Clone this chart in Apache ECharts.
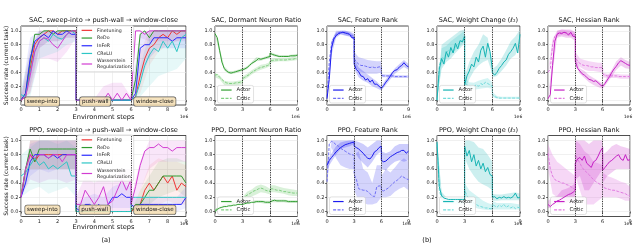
<!DOCTYPE html>
<html><head><meta charset="utf-8">
<script src="https://cdn.jsdelivr.net/npm/echarts@6/dist/echarts.min.js"></script>
<style>html,body{margin:0;padding:0;background:#fff}#c{width:640px;height:245px}</style>
</head><body><div id="c"></div>
<script>
// ---------- x positions (three tasks, each 3e6 steps) ----------
const xsLine = [0,0.25,0.5,0.75,1,1.25,1.5,1.75,2,2.25,2.5,2.75,3,
                3,3.25,3.5,3.75,4,4.25,4.5,4.75,5,5.25,5.5,5.75,6,
                6,6.25,6.5,6.75,7,7.25,7.5,7.75,8,8.25,8.5,8.75,9];
const xsBand = [0,0.5,1,1.5,2,2.5,3, 3,3.5,4,4.5,5,5.5,6, 6,6.5,7,7.5,8,8.5,9];
const yTicks = [0,0.2,0.4,0.6,0.8,1.0];
const methods = ['Finetuning','ReDo','InFeR','CReLU','Wasserstein Regularization'];
const tasks = ['sweep-into','push-wall','window-close'];

// ---------- (a) SAC success rate ----------
const sacFinetuning = [0,0.05,0.45,0.8,0.9,0.95,1,1,0.95,1,1,1,1,
                       0,0,0,0,0,0,0,0,0,0,0,0,0,
                       0,0.05,0.35,0.6,0.75,0.8,0.9,0.95,0.9,1,0.95,1,1];
const sacReDo = [0,0.1,0.55,0.95,0.95,1,1,0.95,1,1,1,1,1,
                 0,0,0,0,0,0,0,0,0,0,0,0,0,
                 0,0.3,0.95,1,0.9,1,1,1,1,1,1,1,1];
const sacInFeR = [0,0.1,0.6,0.85,0.9,0.95,0.9,1,0.95,0.95,1,0.95,0.95,
                  0,0,0,0,0,0,0,0,0,0,0,0,0,
                  0,0.1,0.75,0.8,0.8,0.9,0.9,0.9,0.9,0.85,0.9,0.9,0.9];
const sacCReLU = [0.08,0.05,0.4,0.7,0.85,0.9,0.85,0.95,0.9,0.88,0.95,1,0.95,
                  0,0,0,0,0,0,0,0,0,0,0,0,0,
                  0,0.05,0.25,0.5,0.65,0.75,0.7,0.85,0.75,0.85,0.7,0.9,0.95];
const sacWasser = [0,0.05,0.35,0.7,0.85,0.9,0.88,0.8,0.75,0.85,0.95,1,1,
                   0,0,0,0,0,0,0,0.1,0,0.1,0,0.1,0,
                   0,1,1,0.95,1,1,1,1,1,1,1,1,1];
const sacFineLo   = [0,0.1,0.75,0.85,0.85,0.9,0.9, 0,0,0,0,0,0,0, 0,0.1,0.5,0.7,0.8,0.85,0.9];
const sacFineHi   = [0.05,0.75,1,1,1,1,1, 0,0,0,0,0,0,0, 0.05,0.7,1,1,1,1,1];
const sacInFeRLo  = [0,0.2,0.75,0.85,0.85,0.9,0.9, 0,0,0,0,0,0,0, 0,0.3,0.6,0.75,0.75,0.75,0.75];
const sacInFeRHi  = [0.05,0.9,1,1,1,1,1, 0,0,0,0,0,0,0, 0.05,0.95,1,1,1,1,1];
const sacCReLULo  = [0,0.05,0.6,0.65,0.7,0.8,0.85, 0,0,0,0,0,0,0, 0,0.05,0.2,0.35,0.4,0.45,0.6];
const sacCReLUHi  = [0.15,0.7,1,1,1,1,1, 0,0,0,0,0,0,0, 0.05,0.5,0.95,1,1,1,1];
const sacWasserLo = [0,0.1,0.6,0.6,0.55,0.7,0.9, 0,0,0,0,0,0,0, 0,0.9,0.85,0.85,0.85,0.85,0.85];
const sacWasserHi = [0.05,0.6,1,1,1,1,1, 0,0,0.02,0.2,0.25,0.25,0.05, 0.05,1,1,1,1,1,1];

// ---------- (a) PPO success rate ----------
const ppoFinetuning = [0.2,0.6,0.8,0.7,0.8,0.8,0.8,0.8,0.8,0.8,0.8,0.8,0.8,
                       0,0,0,0,0,0,0,0,0,0,0,0,0,
                       0,0.05,0.1,0.3,0.4,0.3,0.4,0.5,0.4,0.5,0.3,0.4,0.35];
const ppoReDo = [0.2,0.6,0.88,0.7,0.88,0.88,0.88,0.88,0.88,0.88,0.88,0.88,0.88,
                 0,0,0,0,0,0,0,0,0,0,0,0,0,
                 0,0.1,0.1,0.2,0.3,0.3,0.4,0.5,0.5,0.5,0.5,0.5,0.4];
const ppoInFeR = [0.2,0.4,0.7,0.8,0.8,0.8,0.75,0.8,0.75,0.8,0.8,0.8,0.8,
                  0.05,0,0.1,0.1,0.05,0.1,0,0.1,0.2,0.2,0.25,0.2,0.2,
                  0.1,0.05,0.1,0.1,0.1,0.1,0.1,0.1,0.1,0.1,0.1,0.1,0.2];
const ppoCReLU = [0.5,0.55,0.65,0.75,0.65,0.7,0.6,0.65,0.6,0.65,0.7,0.5,0.5,
                  0,0,0,0,0,0,0,0,0,0,0,0,0,
                  0.2,0.2,0.2,0.2,0.2,0.2,0.2,0.2,0.2,0.2,0.2,0.2,0.2];
const ppoWasser = [0.2,0.6,0.8,0.75,0.8,0.8,0.75,0.8,0.8,0.7,0.8,0.8,0.8,
                   0.1,0.1,0.3,0.2,0.1,0.2,0.35,0.1,0.15,0.3,0.45,0.3,0.45,
                   0.1,0.35,0.65,0.85,0.9,0.9,0.95,0.9,0.9,0.85,0.9,0.9,0.9];
const ppoFineLo   = [0.2,0.6,0.6,0.6,0.6,0.6,0.6, 0,0,0,0,0,0,0, 0,0,0.1,0.1,0.15,0.1,0.1];
const ppoFineHi   = [0.2,1,1,1,1,1,1, 0,0,0,0,0,0,0, 0,0.3,0.65,0.75,0.7,0.7,0.65];
const ppoReDoLo   = [0.2,0.6,0.6,0.6,0.6,0.6,0.6, 0,0,0,0,0,0,0, 0,0,0.1,0.2,0.25,0.3,0.2];
const ppoReDoHi   = [0.2,1,1,1,1,1,1, 0,0,0,0,0,0,0, 0,0.3,0.5,0.7,0.75,0.75,0.7];
const ppoInFeRLo  = [0.2,0.5,0.6,0.55,0.6,0.6,0.6, 0,0,0,0,0.05,0.05,0.05, 0.05,0,0,0,0,0,0.05];
const ppoInFeRHi  = [0.2,0.95,1,1,1,1,1, 0.1,0.2,0.25,0.2,0.35,0.4,0.35, 0.2,0.2,0.2,0.2,0.2,0.2,0.35];
const ppoCReLULo  = [0.2,0.3,0.35,0.25,0.3,0.35,0.2, 0,0,0,0,0,0,0, 0.2,0.2,0.2,0.2,0.2,0.2,0.2];
const ppoCReLUHi  = [0.8,0.9,1,1,0.95,1,0.9, 0,0,0,0,0,0,0, 0.2,0.2,0.2,0.2,0.2,0.2,0.2];
const ppoWasserLo = [0.2,0.45,0.4,0.45,0.45,0.4,0.45, 0,0,0,0,0,0,0, 0,0.3,0.6,0.7,0.7,0.7,0.7];
const ppoWasserHi = [0.2,1,1,1,1,1,1, 0.2,0.5,0.4,0.5,0.4,0.6,0.6, 0.2,0.7,1,1,1,1,1];

// ---------- (b) SAC ----------
const sacDormActor = [0.96,0.9,0.72,0.55,0.46,0.42,0.40,0.39,0.40,0.41,0.42,0.43,0.44,
                      0.44,0.45,0.47,0.50,0.53,0.55,0.57,0.60,0.59,0.60,0.61,0.62,0.63,
                      0.68,0.66,0.65,0.64,0.63,0.63,0.63,0.63,0.63,0.64,0.64,0.64,0.65];
const sacDormCritic = [0.36,0.37,0.33,0.30,0.27,0.25,0.24,0.24,0.24,0.25,0.25,0.26,0.26,
                       0.31,0.33,0.35,0.37,0.40,0.42,0.44,0.46,0.47,0.48,0.49,0.50,0.52,
                       0.57,0.57,0.58,0.58,0.58,0.58,0.58,0.58,0.59,0.59,0.59,0.60,0.60];
const sacDormActorLo  = [0.94,0.68,0.43,0.38,0.38,0.40,0.42, 0.42,0.45,0.51,0.56,0.57,0.59,0.61, 0.66,0.63,0.62,0.62,0.62,0.62,0.63];
const sacDormActorHi  = [0.98,0.76,0.49,0.42,0.42,0.44,0.46, 0.46,0.49,0.55,0.62,0.61,0.63,0.65, 0.70,0.67,0.65,0.65,0.65,0.66,0.67];
const sacDormCriticLo = [0.33,0.30,0.22,0.21,0.21,0.22,0.23, 0.28,0.32,0.37,0.41,0.44,0.46,0.49, 0.54,0.55,0.56,0.56,0.56,0.57,0.58];
const sacDormCriticHi = [0.39,0.36,0.28,0.27,0.27,0.28,0.29, 0.34,0.38,0.43,0.47,0.51,0.52,0.55, 0.60,0.61,0.61,0.61,0.61,0.62,0.62];

const sacFrActor = [0.02,0.30,0.75,0.88,0.93,0.96,0.97,0.98,0.97,0.96,0.95,0.90,0.90,
                    0.52,0.44,0.41,0.35,0.34,0.29,0.31,0.26,0.29,0.23,0.23,0.20,0.17,
                    0.17,0.21,0.26,0.30,0.35,0.40,0.43,0.44,0.48,0.50,0.54,0.50,0.48];
const sacFrCritic = [0.05,0.55,0.82,0.90,0.95,0.97,0.98,0.98,0.97,0.97,0.95,0.93,0.92,
                     0.60,0.55,0.52,0.50,0.50,0.49,0.48,0.47,0.48,0.47,0.47,0.48,0.48,
                     0.36,0.35,0.35,0.35,0.35,0.35,0.34,0.34,0.34,0.34,0.34,0.34,0.34];
const sacFrActorLo  = [0.02,0.65,0.9,0.95,0.93,0.92,0.86, 0.45,0.33,0.28,0.25,0.2,0.17,0.14, 0.14,0.22,0.3,0.38,0.43,0.48,0.44];
const sacFrActorHi  = [0.02,0.85,0.98,1.0,1.0,0.98,0.94, 0.6,0.47,0.42,0.37,0.32,0.27,0.2, 0.2,0.3,0.38,0.46,0.52,0.58,0.52];
const sacFrCriticLo = [0.05,0.75,0.92,0.95,0.94,0.92,0.88, 0.5,0.42,0.4,0.38,0.38,0.38,0.4, 0.33,0.33,0.33,0.32,0.32,0.32,0.32];
const sacFrCriticHi = [0.05,0.85,1.0,1.0,1.0,0.99,0.96, 0.7,0.62,0.6,0.58,0.57,0.56,0.56, 0.38,0.37,0.37,0.36,0.36,0.36,0.36];

const sacWcActor = [0.0,0.45,0.6,0.52,0.70,0.62,0.76,0.68,0.82,0.74,0.86,0.84,0.92,
                    0.22,0.35,0.42,0.52,0.48,0.62,0.55,0.72,0.78,0.62,0.82,0.70,0.45,
                    0.40,0.36,0.40,0.46,0.50,0.55,0.58,0.66,0.70,0.75,0.82,0.68,0.95];
const sacWcCritic = [0.0,0.5,0.62,0.6,0.68,0.72,0.74,0.7,0.78,0.8,0.84,0.86,0.94,
                     0.26,0.22,0.2,0.19,0.2,0.22,0.2,0.24,0.22,0.26,0.24,0.22,0.2,
                     0.08,0.05,0.04,0.03,0.03,0.03,0.03,0.03,0.03,0.03,0.03,0.03,0.03];
const sacWcActorLo  = [0,0.45,0.55,0.6,0.68,0.75,0.82, 0.15,0.3,0.42,0.5,0.55,0.58,0.38, 0.33,0.35,0.42,0.5,0.6,0.65,0.8];
const sacWcActorHi  = [0.05,0.8,0.85,0.9,0.95,1.0,1.02, 0.35,0.55,0.7,0.8,0.95,0.9,0.55, 0.45,0.5,0.6,0.72,0.85,0.92,1.02];
const sacWcCriticLo = [0,0.5,0.6,0.65,0.72,0.78,0.85, 0.2,0.15,0.15,0.16,0.17,0.18,0.16, 0.05,0.02,0.02,0.02,0.02,0.02,0.02];
const sacWcCriticHi = [0.05,0.75,0.78,0.85,0.9,0.95,1.0, 0.32,0.26,0.25,0.28,0.3,0.32,0.26, 0.12,0.06,0.05,0.05,0.05,0.05,0.05];

const sacHessActor = [0.02,0.08,0.50,0.85,0.95,0.97,0.96,0.98,0.97,0.94,0.98,0.92,0.92,
                      0.56,0.46,0.42,0.38,0.36,0.33,0.30,0.29,0.27,0.28,0.25,0.22,0.20,
                      0.19,0.24,0.29,0.34,0.40,0.45,0.49,0.54,0.57,0.55,0.53,0.51,0.50];
const sacHessCritic = [0.40,0.45,0.80,0.92,0.96,0.98,0.97,0.98,0.97,0.96,0.96,0.95,0.94,
                       0.62,0.56,0.53,0.51,0.50,0.50,0.49,0.48,0.48,0.47,0.47,0.47,0.47,
                       0.38,0.36,0.35,0.35,0.35,0.35,0.35,0.34,0.34,0.34,0.34,0.34,0.34];
const sacHessActorLo  = [0.02,0.4,0.9,0.92,0.9,0.9,0.85, 0.5,0.38,0.32,0.26,0.22,0.19,0.16, 0.16,0.25,0.34,0.44,0.5,0.46,0.45];
const sacHessActorHi  = [0.02,0.6,1,1.02,1.02,1.02,0.98, 0.62,0.46,0.42,0.36,0.32,0.28,0.24, 0.22,0.33,0.44,0.56,0.62,0.58,0.55];
const sacHessCriticLo = [0.4,0.7,0.92,0.94,0.93,0.92,0.9, 0.55,0.48,0.44,0.42,0.42,0.41,0.4, 0.33,0.32,0.32,0.32,0.31,0.31,0.31];
const sacHessCriticHi = [0.4,0.88,1,1.02,1.01,1,0.98, 0.7,0.6,0.58,0.56,0.55,0.54,0.54, 0.4,0.38,0.38,0.38,0.37,0.37,0.37];

// ---------- (b) PPO ----------
const ppoDormActor = [0.00,0.03,0.05,0.06,0.07,0.07,0.08,0.08,0.09,0.09,0.10,0.10,0.10,
                      0.10,0.11,0.12,0.12,0.13,0.13,0.14,0.14,0.14,0.14,0.13,0.13,0.13,
                      0.15,0.15,0.16,0.15,0.15,0.15,0.15,0.15,0.14,0.14,0.14,0.14,0.14];
const ppoDormCritic = [0.02,0.04,0.05,0.07,0.08,0.09,0.10,0.11,0.12,0.13,0.14,0.15,0.15,
                       0.18,0.21,0.23,0.25,0.27,0.29,0.30,0.32,0.33,0.32,0.30,0.29,0.28,
                       0.32,0.32,0.31,0.30,0.30,0.29,0.28,0.28,0.27,0.27,0.26,0.26,0.26];
const ppoDormActorLo  = [0,0.04,0.05,0.06,0.07,0.08,0.08, 0.08,0.1,0.11,0.12,0.12,0.11,0.11, 0.13,0.13,0.13,0.13,0.12,0.12,0.12];
const ppoDormActorHi  = [0.01,0.07,0.09,0.1,0.11,0.12,0.12, 0.12,0.14,0.15,0.16,0.16,0.15,0.15, 0.17,0.17,0.17,0.17,0.16,0.16,0.16];
const ppoDormCriticLo = [0.01,0.03,0.05,0.07,0.09,0.1,0.11, 0.12,0.18,0.21,0.24,0.27,0.26,0.24, 0.27,0.27,0.26,0.25,0.23,0.22,0.22];
const ppoDormCriticHi = [0.03,0.07,0.11,0.13,0.15,0.18,0.19, 0.2,0.28,0.31,0.36,0.38,0.36,0.32, 0.37,0.37,0.35,0.33,0.32,0.31,0.3];

const ppoFrActor = [0.65,0.72,0.76,0.80,0.84,0.87,0.90,0.92,0.94,0.95,0.96,0.97,0.98,
                    0.92,0.90,0.88,0.85,0.82,0.78,0.75,0.74,0.78,0.84,0.86,0.90,0.92,
                    0.72,0.70,0.71,0.74,0.77,0.79,0.81,0.83,0.84,0.86,0.86,0.82,0.85];
const ppoFrCritic = [0.42,0.95,0.99,0.97,0.94,0.92,0.89,0.87,0.85,0.83,0.81,0.80,0.79,
                     0.52,0.45,0.32,0.31,0.30,0.30,0.28,0.25,0.22,0.21,0.35,0.36,0.36,
                     0.30,0.29,0.31,0.33,0.36,0.39,0.42,0.44,0.47,0.50,0.48,0.46,0.45];
const ppoFrActorLo  = [0.6,0.7,0.8,0.88,0.9,0.92,0.95, 0.85,0.75,0.68,0.62,0.7,0.8,0.85, 0.6,0.58,0.65,0.7,0.72,0.7,0.72];
const ppoFrActorHi  = [0.7,0.82,0.92,0.97,0.99,1.0,1.0, 1.0,0.98,0.95,0.9,0.95,1.0,1.0, 0.85,0.82,0.85,0.92,0.95,0.95,0.95];
const ppoFrCriticLo = [0.4,0.9,0.75,0.65,0.62,0.6,0.6, 0.3,0.15,0.12,0.1,0.1,0.12,0.2, 0.2,0.2,0.22,0.28,0.32,0.35,0.3];
const ppoFrCriticHi = [0.45,1.0,1.0,1.0,1.0,1.0,1.0, 0.8,0.85,0.6,0.55,0.4,0.65,0.65, 0.5,0.6,0.55,0.62,0.7,0.75,0.7];

const ppoWcActor = [0.98,0.35,0.22,0.19,0.18,0.17,0.17,0.17,0.17,0.17,0.17,0.17,0.17,
                    0.92,0.78,0.86,0.70,0.80,0.64,0.72,0.60,0.68,0.56,0.62,0.52,0.50,
                    0.20,0.21,0.18,0.20,0.19,0.21,0.19,0.20,0.19,0.21,0.26,0.19,0.20];
const ppoWcCritic = [0.95,0.30,0.18,0.16,0.15,0.15,0.14,0.14,0.14,0.14,0.13,0.13,0.13,
                     0.30,0.22,0.18,0.15,0.12,0.10,0.08,0.07,0.06,0.05,0.05,0.04,0.04,
                     0.10,0.08,0.06,0.09,0.07,0.10,0.06,0.08,0.05,0.07,0.04,0.06,0.05];
const ppoWcActorLo  = [0.9,0.15,0.15,0.15,0.15,0.15,0.15, 0.75,0.6,0.5,0.42,0.38,0.35,0.3, 0.15,0.15,0.16,0.16,0.16,0.16,0.16];
const ppoWcActorHi  = [1.0,0.28,0.2,0.2,0.2,0.2,0.2, 1.0,1.0,0.98,0.9,0.88,0.8,0.7, 0.25,0.24,0.24,0.25,0.26,0.27,0.25];
const ppoWcCriticLo = [0.88,0.12,0.11,0.1,0.1,0.1,0.1, 0.2,0.1,0.06,0.04,0.03,0.02,0.02, 0.03,0.03,0.03,0.03,0.03,0.03,0.03];
const ppoWcCriticHi = [1.0,0.25,0.18,0.17,0.17,0.17,0.16, 0.4,0.3,0.25,0.2,0.15,0.12,0.1, 0.15,0.12,0.12,0.12,0.12,0.11,0.1];

const ppoHessActor = [0.10,0.07,0.10,0.12,0.15,0.16,0.18,0.20,0.22,0.24,0.25,0.27,0.30,
                      0.68,0.74,0.76,0.72,0.78,0.68,0.65,0.62,0.70,0.72,0.78,0.85,0.90,
                      0.58,0.62,0.66,0.70,0.72,0.75,0.78,0.80,0.74,0.72,0.80,0.72,0.73];
const ppoHessCritic = [0.82,0.60,0.50,0.45,0.43,0.42,0.40,0.40,0.38,0.37,0.35,0.33,0.30,
                       0.80,0.74,0.68,0.62,0.58,0.55,0.52,0.48,0.45,0.42,0.40,0.38,0.38,
                       0.35,0.33,0.32,0.31,0.30,0.30,0.29,0.28,0.27,0.26,0.25,0.23,0.22];
const ppoHessActorLo  = [0.05,0.05,0.08,0.1,0.12,0.15,0.2, 0.45,0.5,0.3,0.3,0.4,0.5,0.6, 0.4,0.5,0.55,0.6,0.6,0.6,0.6];
const ppoHessActorHi  = [0.15,0.2,0.22,0.3,0.32,0.35,0.4, 1.0,1.0,1.0,0.95,1.0,1.0,1.0, 0.8,0.85,0.92,0.95,0.92,0.9,0.88];
const ppoHessCriticLo = [0.6,0.25,0.2,0.18,0.15,0.12,0.1, 0.5,0.3,0.1,0.1,0.1,0.15,0.2, 0.2,0.2,0.2,0.2,0.18,0.15,0.15];
const ppoHessCriticHi = [0.95,0.8,0.7,0.65,0.6,0.55,0.5, 1.0,0.95,0.85,0.8,0.7,0.68,0.65, 0.55,0.5,0.48,0.45,0.42,0.4,0.35];

// ---------- layout & styling ----------
const FONT = 'DejaVu Sans';
const TOPROW = {top: 26, height: 79};
const BOTROW = {top: 135.5, height: 81};
const grids = [
  {left: 21, ...TOPROW, width: 165}, {left: 21, ...BOTROW, width: 165},
  {left: 215, ...TOPROW, width: 82.5}, {left: 327, ...TOPROW, width: 81.5},
  {left: 437, ...TOPROW, width: 83}, {left: 548, ...TOPROW, width: 82},
  {left: 215, ...BOTROW, width: 82.5}, {left: 327, ...BOTROW, width: 81.5},
  {left: 437, ...BOTROW, width: 83}, {left: 548, ...BOTROW, width: 82}
];
const colA = {Finetuning: '#f03535', ReDo: '#2f9a2f', InFeR: '#2a2aff', CReLU: '#2ec6c6', 'Wasserstein Regularization': '#d23cd2'};
const colB = {
  dorm: ['#34a034', '#80cf80'], fr: ['#1c1cf0', '#7070f5'],
  wc: ['#17b4b4', '#72dbdb'], hess: ['#c51fc5', '#e07ae0']
};

const series = [];
function line(gi, name, ys, color, dashed, z) {
  const s = {
    type: 'line', name, xAxisIndex: gi, yAxisIndex: gi,
    data: xsLine.map((x, i) => [x, ys[i]]),
    symbol: 'none', showSymbol: false, z: z || 3, animation: false, silent: true,
    lineStyle: {color, width: 1, type: dashed ? [3, 1.4] : 'solid'},
    itemStyle: {color}
  };
  series.push(s);
  return s;
}
function band(gi, lo, hi, color, op) {
  series.push({
    type: 'custom', xAxisIndex: gi, yAxisIndex: gi, data: [[0, 0]], z: 1, silent: true,
    clip: true, animation: false,
    renderItem: (params, api) => {
      const pts = [];
      for (let i = 0; i < xsBand.length; i++) pts.push(api.coord([xsBand[i], lo[i]]));
      for (let i = xsBand.length - 1; i >= 0; i--) pts.push(api.coord([xsBand[i], hi[i]]));
      return {type: 'polygon', shape: {points: pts}, style: {fill: color, opacity: op}};
    }
  });
}
function vlines(s) {
  s.markLine = {
    silent: true, symbol: ['none', 'none'], label: {show: false}, animation: false,
    lineStyle: {type: [1.2, 1.2], color: '#222', width: 0.9},
    data: [{xAxis: 3}, {xAxis: 6}]
  };
}
function taskLabels(s, xs, y) {
  s.markPoint = {
    silent: true, animation: false,
    data: tasks.map((t, i) => ({
      coord: [xs[i], y], symbol: 'rect', symbolSize: 1, itemStyle: {color: 'rgba(0,0,0,0)'},
      label: {
        show: true, position: 'inside', formatter: t, fontFamily: FONT, fontSize: 5.6, color: '#111',
        backgroundColor: 'rgba(245,222,179,0.85)', borderColor: '#555', borderWidth: 0.6,
        borderRadius: 2, padding: [1.6, 2, 1.2, 2]
      }
    }))
  };
}

// panel (a) SAC
band(0, sacWasserLo, sacWasserHi, colA['Wasserstein Regularization'], 0.13);
band(0, sacCReLULo, sacCReLUHi, colA.CReLU, 0.12);
band(0, sacInFeRLo, sacInFeRHi, colA.InFeR, 0.1);
band(0, sacFineLo, sacFineHi, colA.Finetuning, 0.08);
const sA = [sacFinetuning, sacReDo, sacInFeR, sacCReLU, sacWasser].map((ys, i) =>
  line(0, methods[i] + '|sac', ys, colA[methods[i]]));
vlines(sA[0]);
taskLabels(sA[0], [1.15, 4.05, 7.3], -0.02);

// panel (a) PPO
band(1, ppoWasserLo, ppoWasserHi, colA['Wasserstein Regularization'], 0.13);
band(1, ppoCReLULo, ppoCReLUHi, colA.CReLU, 0.1);
band(1, ppoReDoLo, ppoReDoHi, colA.ReDo, 0.1);
band(1, ppoFineLo, ppoFineHi, colA.Finetuning, 0.08);
band(1, ppoInFeRLo, ppoInFeRHi, colA.InFeR, 0.08);
const pA = [ppoFinetuning, ppoReDo, ppoInFeR, ppoCReLU, ppoWasser].map((ys, i) =>
  line(1, methods[i] + '|ppo', ys, colA[methods[i]]));
vlines(pA[0]);
taskLabels(pA[0], [1.17, 4.02, 7.3], 0.025);

// panels (b)
const bPanels = [
  [2, 'dorm', sacDormActor, sacDormCritic, sacDormActorLo, sacDormActorHi, sacDormCriticLo, sacDormCriticHi],
  [3, 'fr', sacFrActor, sacFrCritic, sacFrActorLo, sacFrActorHi, sacFrCriticLo, sacFrCriticHi],
  [4, 'wc', sacWcActor, sacWcCritic, sacWcActorLo, sacWcActorHi, sacWcCriticLo, sacWcCriticHi],
  [5, 'hess', sacHessActor, sacHessCritic, sacHessActorLo, sacHessActorHi, sacHessCriticLo, sacHessCriticHi],
  [6, 'dorm', ppoDormActor, ppoDormCritic, ppoDormActorLo, ppoDormActorHi, ppoDormCriticLo, ppoDormCriticHi],
  [7, 'fr', ppoFrActor, ppoFrCritic, ppoFrActorLo, ppoFrActorHi, ppoFrCriticLo, ppoFrCriticHi],
  [8, 'wc', ppoWcActor, ppoWcCritic, ppoWcActorLo, ppoWcActorHi, ppoWcCriticLo, ppoWcCriticHi],
  [9, 'hess', ppoHessActor, ppoHessCritic, ppoHessActorLo, ppoHessActorHi, ppoHessCriticLo, ppoHessCriticHi]
];
bPanels.forEach(([gi, key, a, c, alo, ahi, clo, chi]) => {
  const [ca, cc] = colB[key];
  band(gi, clo, chi, cc, 0.3);
  band(gi, alo, ahi, ca, 0.22);
  const sc = line(gi, 'Critic|' + gi, c, cc, true, 3);
  const sa = line(gi, 'Actor|' + gi, a, ca, false, 4);
  vlines(sa);
});

// axes
const xAxes = grids.map((g, i) => ({
  type: 'value', gridIndex: i, min: 0, max: 9, interval: i < 2 ? 1 : 3,
  axisLine: {show: false},
  axisTick: {show: true, length: 2, lineStyle: {color: '#333', width: 0.7}},
  axisLabel: {fontSize: 5, fontFamily: FONT, color: '#222', margin: 2.5},
  splitLine: {show: true, lineStyle: {color: '#e6e6e6', width: 0.6}}
}));
const yAxes = grids.map((g, i) => ({
  type: 'value', gridIndex: i, min: -0.07, max: 1.07,
  axisLine: {show: false},
  axisTick: {show: true, length: 2, customValues: yTicks, lineStyle: {color: '#333', width: 0.7}},
  axisLabel: {fontSize: 5, fontFamily: FONT, color: '#222', margin: 2.5, customValues: yTicks,
              formatter: v => v.toFixed(1)},
  splitLine: {show: true, lineStyle: {color: '#e6e6e6', width: 0.6}}
}));

// legends
const legendBase = {
  orient: 'vertical', itemWidth: 10.5, itemHeight: 5,
  backgroundColor: 'rgba(255,255,255,0.85)', borderColor: '#cfcfcf', borderWidth: 0.6, borderRadius: 2,
  itemStyle: {opacity: 0}, lineStyle: {width: 1.2}, selectedMode: false,
  formatter: n => n.split('|')[0].replace('Wasserstein ', 'Wasserstein\n')
};
const legends = [
  {...legendBase, left: 77, top: 25.5, itemGap: 2, padding: [2, 3, 2, 4],
   textStyle: {fontSize: 4.7, fontFamily: FONT, color: '#222', lineHeight: 5.7},
   data: methods.map(m => m + '|sac')},
  {...legendBase, left: 77, top: 135, itemGap: 2, padding: [2, 3, 2, 4],
   textStyle: {fontSize: 4.7, fontFamily: FONT, color: '#222', lineHeight: 5.7},
   data: methods.map(m => m + '|ppo')}
];
for (let gi = 2; gi < 10; gi++) {
  const g = grids[gi];
  legends.push({...legendBase, left: g.left + 2.5, bottom: 245 - (g.top + g.height) + 2,
    itemGap: 2, padding: [1.5, 3, 1.5, 3],
    textStyle: {fontSize: 5.3, fontFamily: FONT, color: '#222', lineHeight: 6.3},
    data: ['Actor|' + gi, 'Critic|' + gi]});
}

// texts
function txt(x, y, text, size, extra) {
  return Object.assign({type: 'text', x, y, silent: true,
    style: {text, fontSize: size, fontFamily: FONT, fill: '#111', align: 'center', verticalAlign: 'middle',
            textAlign: 'center', textVerticalAlign: 'middle'}}, extra || {});
}
const gcx = i => grids[i].left + grids[i].width / 2;
const gright = i => grids[i].left + grids[i].width;
const bTitles = ['Dormant Neuron Ratio', 'Feature Rank', 'Weight Change (ℓ₂)', 'Hessian Rank'];
const graphics = [
  txt(gcx(0), 20, 'SAC, sweep-into → push-wall → window-close', 6.6),
  txt(gcx(1), 130, 'PPO, sweep-into → push-wall → window-close', 6.6),
  txt(6, 65.5, 'Success rate (current task)', 5.9, {rotation: Math.PI / 2}),
  txt(6, 176, 'Success rate (current task)', 5.9, {rotation: Math.PI / 2}),
  txt(gcx(0), 117.5, 'Environment steps', 6.6),
  txt(gcx(1), 227, 'Environment steps', 6.6),
  txt(106, 240.5, '(a)', 6.6),
  txt(427, 240.5, '(b)', 6.6)
];
for (let k = 0; k < 4; k++) {
  graphics.push(txt(gcx(2 + k), 20, 'SAC, ' + bTitles[k], 6.5));
  graphics.push(txt(gcx(6 + k), 130, 'PPO, ' + bTitles[k], 6.5));
}
for (let i = 0; i < 10; i++) {
  const yy = i === 0 || (i >= 2 && i <= 5) ? 117 : 224;
  graphics.push(txt(gright(i) - 2, yy, '1e6', 4.5));
}

const chart = echarts.init(document.getElementById('c'), null, {renderer: 'canvas'});
chart.setOption({
  animation: false,
  backgroundColor: '#fff',
  grid: grids.map(g => ({...g, show: true, borderColor: '#222', borderWidth: 0.8, backgroundColor: 'transparent', containLabel: false})),
  xAxis: xAxes, yAxis: yAxes,
  legend: legends,
  series,
  graphic: graphics
});
</script></body></html>
